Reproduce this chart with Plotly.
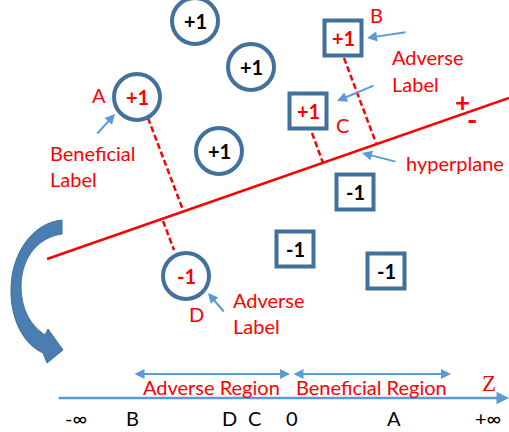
import plotly.graph_objects as go

# ---- data (feature-space coordinates, drawn on data axes) ----
circle_x = [195, 251, 137, 219, 186]
circle_y = [21, 67, 97, 151, 276]
circle_lbl = ["+1", "+1", "+1", "+1", "-1"]
circle_col = ["black", "black", "red", "black", "red"]

square_x = [343, 308, 355, 295, 386]
square_y = [38, 111, 192, 249, 271]
square_lbl = ["+1", "+1", "-1", "-1", "-1"]
square_col = ["red", "red", "black", "black", "black"]

hyper_x = [47, 509]
hyper_y = [259, 98]

# perpendicular distances: point -> foot on hyperplane
dist_from_x = [148, 344, 312, 163]
dist_from_y = [118, 58, 133, 221]
dist_to_x = [183, 376, 323, 174]
dist_to_y = [210, 143, 163, 250]

# Z number line
z_tick_labels = ["-∞", "B", "D", "C", "0", "A", "+∞"]
z_tick_pos = [76, 132, 229, 254, 292, 394, 488]
region_labels = ["Adverse Region", "Beneficial Region"]
region_from = [133, 292]
region_to = [290, 451]

RED = "#FF0000"
DARK = "#41719C"
LIGHT = "#5B9BD5"
FONT = "Lato"

fig = go.Figure()
shapes = []
ann = []

# hyperplane
shapes.append(dict(type="line", x0=hyper_x[0], y0=hyper_y[0], x1=hyper_x[1], y1=hyper_y[1],
                   line=dict(color=RED, width=2.5)))
# dashed distances
for a, b, c, d in zip(dist_from_x, dist_from_y, dist_to_x, dist_to_y):
    shapes.append(dict(type="line", x0=a, y0=b, x1=c, y1=d,
                       line=dict(color=RED, width=2.5, dash="6px,3px")))

R = 23
for x, y, t, c in zip(circle_x, circle_y, circle_lbl, circle_col):
    shapes.append(dict(type="circle", x0=x - R, x1=x + R, y0=y - R, y1=y + R,
                       line=dict(color=DARK, width=4), fillcolor="white"))
    ann.append(dict(x=x, y=y, text="<b>%s</b>" % t, showarrow=False,
                    font=dict(family=FONT, size=20, color=c)))

HW, HH = 18.5, 17.5
for x, y, t, c in zip(square_x, square_y, square_lbl, square_col):
    shapes.append(dict(type="rect", x0=x - HW, x1=x + HW, y0=y - HH, y1=y + HH,
                       line=dict(color=DARK, width=4), fillcolor="white"))
    ann.append(dict(x=x, y=y, text="<b>%s</b>" % t, showarrow=False,
                    font=dict(family=FONT, size=20, color=c)))

# curved arrow
shapes.append(dict(type="path",
                   path="M 62 220 L 62 234 C 40 237, 22 255, 21 285 C 21 309, 30 325, 45 335 "
                        "L 48 329 L 63 350 L 47 363 L 43 353 C 23 344, 10 318, 11 288 "
                        "C 12 252, 33 223, 62 220 Z",
                   fillcolor="#4A7DB0", line=dict(color="#41719C", width=1)))

# red texts
def txt(x, y, s, xanchor="center", size=20, color=RED, family=FONT):
    ann.append(dict(x=x, y=y, text=s, showarrow=False, xanchor=xanchor, yanchor="middle",
                    font=dict(family=family, size=size, color=color)))

txt(99, 95, "A")
txt(48, 153, "Beneficial", "left")
txt(48, 179, "Label", "left")
txt(376, 15, "B")
txt(390, 57, "Adverse", "left")
txt(390, 84, "Label", "left")
txt(342, 125, "C")
txt(404, 163, "hyperplane", "left")
txt(196, 314, "D")
txt(231, 300, "Adverse", "left")
txt(231, 326, "Label", "left")
txt(462, 102, "<b>+</b>", size=26)
txt(472, 119, "<b>-</b>", size=28)

# blue pointer arrows
arrows = [((96, 135), (115, 114)), ((407, 32), (367, 38)), ((375, 85), (337, 101)),
          ((397, 162), (362, 153)), ((225, 313), (208, 293))]
for (sx, sy), (ex, ey) in arrows:
    ann.append(dict(x=ex, y=ey, ax=sx, ay=sy, axref="x", ayref="y", text="",
                    showarrow=True, arrowhead=2, arrowsize=1, arrowwidth=2, arrowcolor=LIGHT))

# Z axis line
ann.append(dict(x=509, y=398, ax=57, ay=398, axref="x", ayref="y", text="",
                showarrow=True, arrowhead=2, arrowsize=1, arrowwidth=2.5, arrowcolor=LIGHT))
txt(489, 383, "Z", size=23, family="Liberation Serif")

for lbl, a, b in zip(region_labels, region_from, region_to):
    ann.append(dict(x=b, y=374, ax=a, ay=374, axref="x", ayref="y", text="",
                    showarrow=True, arrowhead=2, startarrowhead=2, arrowside="end+start",
                    arrowsize=1, arrowwidth=2, arrowcolor=LIGHT))
    txt((a + b) / 2, 387, lbl, size=20)

for lbl, p in zip(z_tick_labels, z_tick_pos):
    txt(p, 418, lbl, size=20, color="black")

fig.update_layout(
    width=509, height=432, margin=dict(l=0, r=0, t=0, b=0),
    paper_bgcolor="white", plot_bgcolor="white",
    xaxis=dict(range=[0, 509], visible=False, fixedrange=True),
    yaxis=dict(range=[432, 0], visible=False, fixedrange=True),
    shapes=shapes, annotations=ann, showlegend=False,
)
fig.write_html("out.html", config={"displayModeBar": False},
               post_script="document.body.style.margin='0';document.body.style.overflow='hidden';")
